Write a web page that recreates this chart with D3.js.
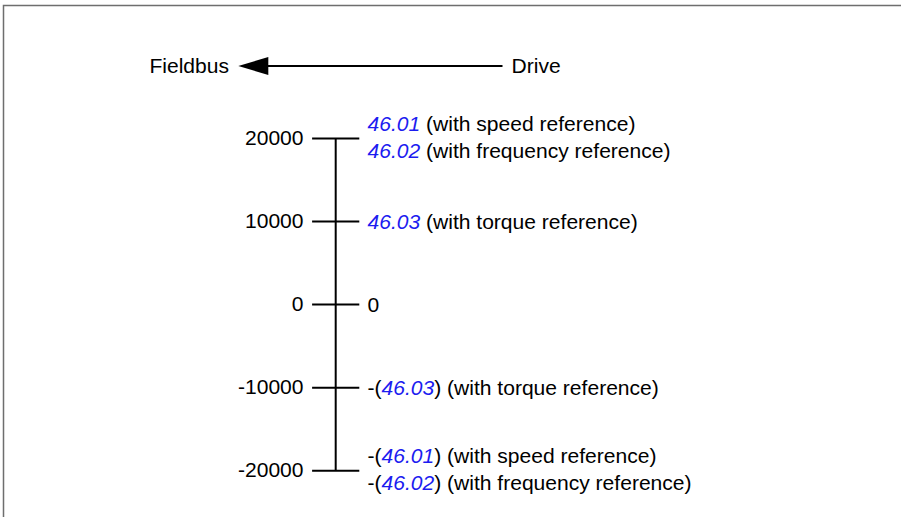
<!DOCTYPE html>
<html>
<head>
<meta charset="utf-8">
<script src="https://cdn.jsdelivr.net/npm/d3@7"></script>
<style>
  html, body { margin: 0; padding: 0; background: #fff; }
  svg { display: block; }
  text { font-family: "Liberation Sans", Arial, sans-serif; font-size: 19.5px; fill: #000; }
</style>
</head>
<body>
<svg id="chart" width="901" height="517"></svg>
<script>
// ---- data ----
const tickValues = [20000, 10000, 0, -10000, -20000];
const tickLabels = ["20000", "10000", "0", "-10000", "-20000"];
// right-hand labels: each entry is a list of lines; each line is a list of [text, isParam]
const driveLabels = [
  [[["46.01", true], [" (with speed reference)", false]],
   [["46.02", true], [" (with frequency reference)", false]]],
  [[["46.03", true], [" (with torque reference)", false]]],
  [[["0", false]]],
  [[["-(", false], ["46.03", true], [") (with torque reference)", false]]],
  [[["-(", false], ["46.01", true], [") (with speed reference)", false]],
   [["-(", false], ["46.02", true], [") (with frequency reference)", false]]]
];
const headerLeft = "Fieldbus";
const headerRight = "Drive";

// ---- drawing ----
const svg = d3.select("#chart");
const SX = 1.08; // horizontal text stretch
const blue = "#1c1cf0";

// frame
svg.append("rect").attr("x", 3.5).attr("y", 5.5).attr("width", 1000).attr("height", 1000)
  .attr("fill", "none").attr("stroke", "#6e6e6e").attr("stroke-width", 1.5);

const y = d3.scaleLinear().domain([-20000, 20000]).range([470.7, 138.5]);
const axisX = 335.7, half = 23.6;

// vertical axis line
svg.append("line").attr("x1", axisX).attr("x2", axisX)
  .attr("y1", y(20000)).attr("y2", y(-20000))
  .attr("stroke", "#000").attr("stroke-width", 2);

// ticks
svg.selectAll("line.tick").data(tickValues).join("line").attr("class", "tick")
  .attr("x1", axisX - half).attr("x2", axisX + half)
  .attr("y1", d => y(d)).attr("y2", d => y(d))
  .attr("stroke", "#000").attr("stroke-width", 2);

// left labels
svg.selectAll("text.left").data(tickValues).join("text").attr("class", "left")
  .attr("text-anchor", "end")
  .attr("transform", d => `translate(303.5,${y(d) + 6.5}) scale(${SX},1)`)
  .text((d, i) => tickLabels[i]);

// right labels
tickValues.forEach((v, i) => {
  const lines = driveLabels[i];
  const offsets = lines.length === 1 ? [7.2] : [-8, 19];
  lines.forEach((segs, li) => {
    const t = svg.append("text")
      .attr("transform", `translate(367.5,${y(v) + offsets[li]}) scale(${SX},1)`);
    segs.forEach(([s, isParam]) => {
      const ts = t.append("tspan").text(s).attr("xml:space", "preserve").style("white-space", "pre");
      if (isParam) ts.style("fill", blue).style("font-style", "italic");
    });
  });
});

// header arrow
svg.append("line").attr("x1", 266).attr("x2", 502.5).attr("y1", 66).attr("y2", 66)
  .attr("stroke", "#000").attr("stroke-width", 2);
svg.append("path").attr("d", "M238.3,66 L268.3,57 L268.3,75 Z").attr("fill", "#000");

svg.append("text").attr("text-anchor", "end")
  .attr("transform", `translate(229,73) scale(${SX},1)`).text(headerLeft);
svg.append("text")
  .attr("transform", `translate(511.5,73) scale(${SX},1)`).text(headerRight);
</script>
</body>
</html>
